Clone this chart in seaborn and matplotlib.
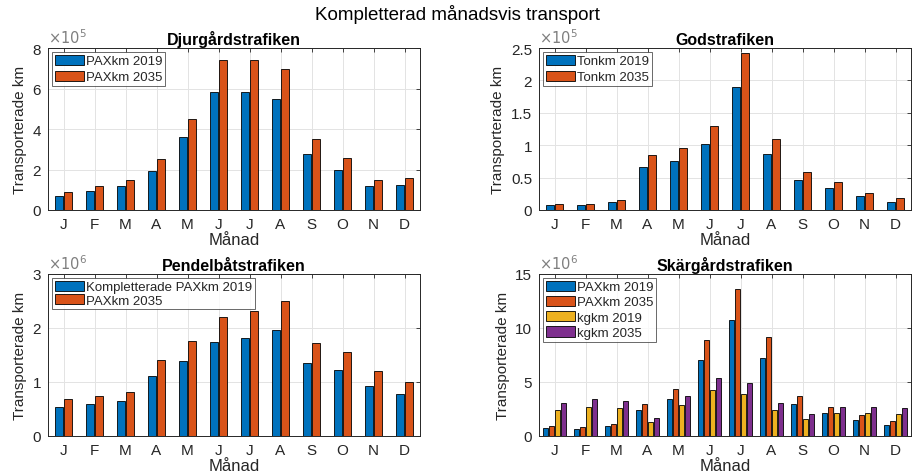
import numpy as np
import pandas as pd
import matplotlib
matplotlib.use("Agg")
import matplotlib.pyplot as plt
import seaborn as sns
from matplotlib.ticker import FuncFormatter, MultipleLocator

# Month labels (J F M ... D)
months = ["J", "F", "M", "A", "M", "J", "J", "A", "S", "O", "N", "D"]

# Djurgårdstrafiken (PAXkm)
djur_2019 = [0.70e5, 0.95e5, 1.20e5, 1.95e5, 3.60e5, 5.85e5, 5.85e5, 5.50e5, 2.75e5, 2.00e5, 1.20e5, 1.25e5]
djur_2035 = [0.90e5, 1.20e5, 1.50e5, 2.50e5, 4.50e5, 7.40e5, 7.40e5, 6.95e5, 3.50e5, 2.55e5, 1.50e5, 1.60e5]

# Godstrafiken (Tonkm)
gods_2019 = [0.07e5, 0.08e5, 0.12e5, 0.67e5, 0.76e5, 1.02e5, 1.90e5, 0.87e5, 0.46e5, 0.34e5, 0.21e5, 0.13e5]
gods_2035 = [0.09e5, 0.10e5, 0.15e5, 0.85e5, 0.96e5, 1.30e5, 2.42e5, 1.10e5, 0.58e5, 0.43e5, 0.26e5, 0.18e5]

# Pendelbåtstrafiken (PAXkm)
pendel_2019 = [0.54e6, 0.59e6, 0.65e6, 1.11e6, 1.39e6, 1.74e6, 1.82e6, 1.97e6, 1.36e6, 1.23e6, 0.93e6, 0.78e6]
pendel_2035 = [0.69e6, 0.75e6, 0.81e6, 1.41e6, 1.76e6, 2.21e6, 2.31e6, 2.50e6, 1.72e6, 1.55e6, 1.20e6, 1.00e6]

# Skärgårdstrafiken (PAXkm and kgkm)
skarg_pax_2019 = [0.75e6, 0.65e6, 0.90e6, 2.40e6, 3.40e6, 7.00e6, 10.75e6, 7.20e6, 3.00e6, 2.15e6, 1.50e6, 1.05e6]
skarg_pax_2035 = [0.95e6, 0.80e6, 1.10e6, 3.00e6, 4.35e6, 8.90e6, 13.65e6, 9.20e6, 3.75e6, 2.70e6, 1.90e6, 1.35e6]
skarg_kg_2019 = [2.40e6, 2.70e6, 2.60e6, 1.30e6, 2.90e6, 4.25e6, 3.90e6, 2.40e6, 1.55e6, 2.10e6, 2.15e6, 2.00e6]
skarg_kg_2035 = [3.05e6, 3.45e6, 3.25e6, 1.65e6, 3.70e6, 5.40e6, 4.95e6, 3.05e6, 2.00e6, 2.65e6, 2.70e6, 2.60e6]

matlab_colors = ["#0072BD", "#D95319", "#EDB120", "#7E2F8E"]
text_gray = "#262626"

sns.set_theme(style="white")
plt.rcParams["font.family"] = ["Liberation Sans", "DejaVu Sans"]
plt.rcParams["axes.edgecolor"] = text_gray
plt.rcParams["xtick.color"] = text_gray
plt.rcParams["ytick.color"] = text_gray


def long_table(series):
    rows = []
    for name, vals in series.items():
        for i, v in enumerate(vals):
            rows.append({"month": i, "serie": name, "value": v})
    return pd.DataFrame(rows)


def panel(ax, series, title, ymax, ystep, exp, width, legspace):
    df = long_table(series)
    names = list(series.keys())
    sns.barplot(
        data=df, x="month", y="value", hue="serie", hue_order=names,
        order=list(range(12)), palette=matlab_colors[:len(names)],
        width=width, gap=0.08, edgecolor="black", linewidth=0.6,
        saturation=1, ax=ax, zorder=3,
    )
    ax.set_xticks(range(12))
    ax.set_xticklabels(months)
    ax.set_xlim(-0.5, 11.5)
    ax.set_ylim(0, ymax)
    ax.yaxis.set_major_locator(MultipleLocator(ystep))
    scale = 10.0 ** exp
    ax.yaxis.set_major_formatter(FuncFormatter(lambda v, p: f"{v / scale:g}"))
    ax.text(0.0, 1.015, r"$\times10^{%d}$" % exp, transform=ax.transAxes,
            fontsize=10.5, color="#7f7f7f", ha="left", va="bottom")
    ax.tick_params(axis="both", labelsize=11, pad=5)
    ax.tick_params(direction="in", length=3, width=0.6, top=True, right=True,
                   labeltop=False, labelright=False)
    ax.grid(True, color="#e3e3e3", linewidth=0.7, zorder=0)
    ax.set_axisbelow(True)
    for sp in ax.spines.values():
        sp.set_visible(True)
        sp.set_linewidth(0.7)
    ax.set_title(title, fontsize=11.5, fontweight="bold", color="black", pad=3)
    ax.set_xlabel("Månad", fontsize=12, color=text_gray, labelpad=1)
    ax.set_ylabel("Transporterade km", fontsize=11, color=text_gray, labelpad=4)
    leg = ax.legend(loc="upper left", fontsize=9.5, frameon=True, fancybox=False,
                    edgecolor=text_gray, handlelength=2.2, handleheight=0.8,
                    handletextpad=0.2, borderpad=0.2, labelspacing=legspace,
                    borderaxespad=0.3)
    leg.get_frame().set_linewidth(0.6)
    leg.set_zorder(10)
    for h in leg.legend_handles:
        h.set_edgecolor("black")


fig = plt.figure(figsize=(9.14, 4.77), dpi=100)
W, H = 914, 477
ax1 = fig.add_axes([48 / W, 1 - 211 / H, 372 / W, 162 / H])
ax2 = fig.add_axes([539 / W, 1 - 211 / H, 372 / W, 162 / H])
ax3 = fig.add_axes([48 / W, 1 - 437 / H, 372 / W, 162 / H])
ax4 = fig.add_axes([539 / W, 1 - 437 / H, 372 / W, 162 / H])

panel(ax1, {"PAXkm 2019": djur_2019, "PAXkm 2035": djur_2035},
      "Djurgårdstrafiken", 8e5, 2e5, 5, 0.55, 0.25)
panel(ax2, {"Tonkm 2019": gods_2019, "Tonkm 2035": gods_2035},
      "Godstrafiken", 2.5e5, 0.5e5, 5, 0.55, 0.25)
panel(ax3, {"Kompletterade PAXkm 2019": pendel_2019, "PAXkm 2035": pendel_2035},
      "Pendelbåtstrafiken", 3e6, 1e6, 6, 0.55, 0.05)
panel(ax4, {"PAXkm 2019": skarg_pax_2019, "PAXkm 2035": skarg_pax_2035,
            "kgkm 2019": skarg_kg_2019, "kgkm 2035": skarg_kg_2035},
      "Skärgårdstrafiken", 15e6, 5e6, 6, 0.75, 0.2)

fig.text(0.5, 1 - 14 / H, "Kompletterad månadsvis transport", fontsize=13.5,
         ha="center", va="center", color="black")

fig.savefig("out.png", dpi=100)
